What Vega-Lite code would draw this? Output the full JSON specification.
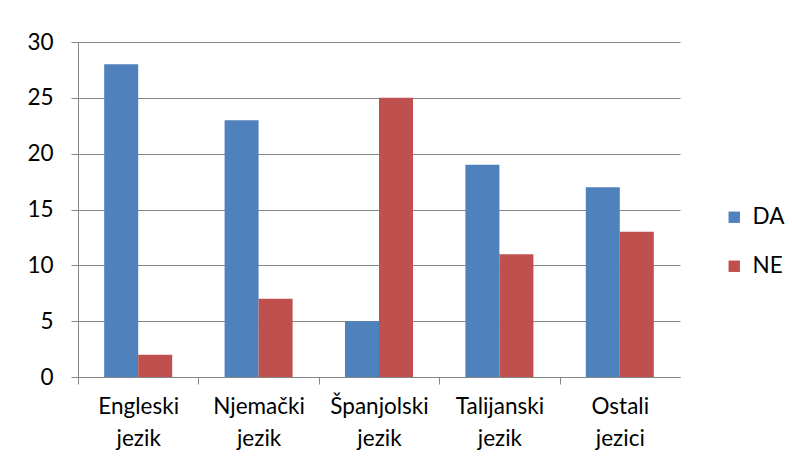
{
  "$schema": "https://vega.github.io/schema/vega-lite/v6.json",
  "autosize": {"type": "none"},
  "width": 602,
  "height": 335,
  "padding": {"left": 78, "top": 42, "right": 112, "bottom": 91},
  "background": "white",
  "data": {"values": [
    {"jezik": "Engleski jezik", "odgovor": "DA", "broj": 28},
    {"jezik": "Engleski jezik", "odgovor": "NE", "broj": 2},
    {"jezik": "Njemački jezik", "odgovor": "DA", "broj": 23},
    {"jezik": "Njemački jezik", "odgovor": "NE", "broj": 7},
    {"jezik": "Španjolski jezik", "odgovor": "DA", "broj": 5},
    {"jezik": "Španjolski jezik", "odgovor": "NE", "broj": 25},
    {"jezik": "Talijanski jezik", "odgovor": "DA", "broj": 19},
    {"jezik": "Talijanski jezik", "odgovor": "NE", "broj": 11},
    {"jezik": "Ostali jezici", "odgovor": "DA", "broj": 17},
    {"jezik": "Ostali jezici", "odgovor": "NE", "broj": 13}
  ]},
  "mark": {"type": "bar"},
  "encoding": {
    "x": {
      "field": "jezik", "type": "nominal", "sort": null,
      "scale": {"paddingInner": 0.435, "paddingOuter": 0.2175},
      "axis": {
        "title": null, "labelAngle": 0,
        "labelExpr": "split(datum.label, ' ')",
        "labelLineHeight": 32, "labelPadding": 11,
        "tickSize": 7, "tickOffset": -60.2, "labelOffset": 60.2, "tickColor": "#868686",
        "domainColor": "#868686", "labelFontSize": 22.5, "labelColor": "#000000",
        "labelFont": "Lato", "grid": false, "labelBaseline": "top"
      }
    },
    "xOffset": {"field": "odgovor", "type": "nominal", "scale": {"paddingInner": 0, "paddingOuter": 0}},
    "y": {
      "field": "broj", "type": "quantitative",
      "scale": {"domain": [0, 30]},
      "axis": {
        "title": null, "values": [0, 5, 10, 15, 20, 25, 30],
        "tickSize": 7, "labelPadding": 18, "tickColor": "#868686",
        "domainColor": "#868686", "gridColor": "#868686", "grid": true,
        "labelFontSize": 22.5, "labelFont": "Lato", "labelColor": "#000000"
      }
    },
    "color": {
      "field": "odgovor", "type": "nominal",
      "scale": {"domain": ["DA", "NE"], "range": ["#4F81BD", "#C0504D"]},
      "legend": {
        "title": null, "orient": "none", "legendX": 645, "legendY": 164,
        "symbolType": "square", "symbolSize": 130, "symbolStrokeWidth": 0,
        "rowPadding": 26, "labelFontSize": 22.5, "labelFont": "Lato",
        "labelColor": "#000000", "labelOffset": 7
      }
    }
  },
  "config": {"view": {"stroke": null}}
}
